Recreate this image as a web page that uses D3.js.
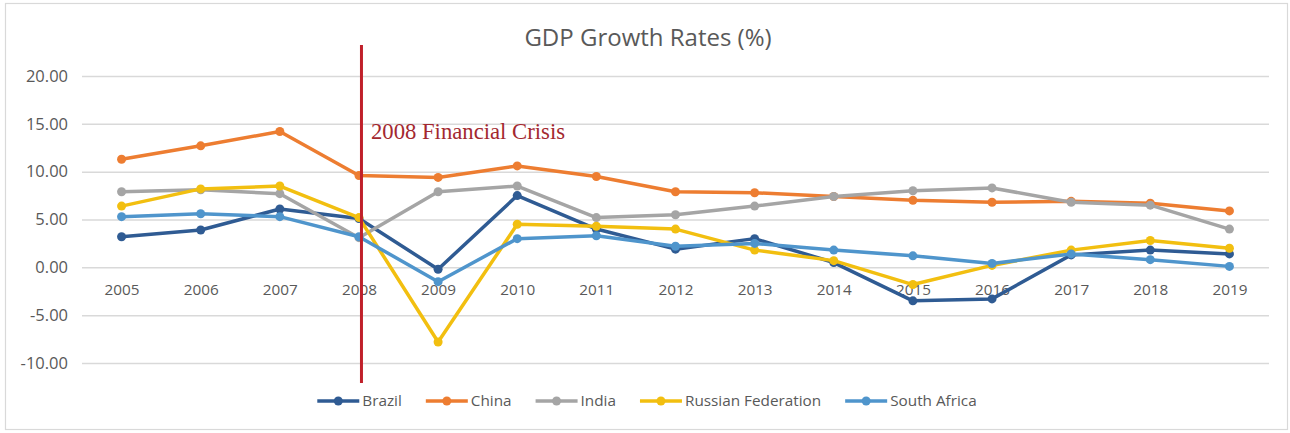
<!DOCTYPE html>
<html>
<head>
<meta charset="utf-8">
<script src="https://cdn.jsdelivr.net/npm/d3@7"></script>
<style>
  html, body { margin: 0; padding: 0; background: #ffffff; }
  svg { display: block; }
</style>
</head>
<body>
<svg id="chart" width="1290" height="433"></svg>
<script>
// GDP growth, annual %, for the BRICS economies
const years = ["2005","2006","2007","2008","2009","2010","2011","2012","2013","2014","2015","2016","2017","2018","2019"];
const brazil = [3.2, 3.9, 6.1, 5.1, -0.2, 7.5, 4.0, 1.9, 3.0, 0.5, -3.5, -3.3, 1.3, 1.8, 1.4];
const china  = [11.3, 12.7, 14.2, 9.6, 9.4, 10.6, 9.5, 7.9, 7.8, 7.4, 7.0, 6.8, 6.9, 6.7, 5.9];
const india  = [7.9, 8.1, 7.7, 3.1, 7.9, 8.5, 5.2, 5.5, 6.4, 7.4, 8.0, 8.3, 6.8, 6.5, 4.0];
const russia = [6.4, 8.2, 8.5, 5.2, -7.8, 4.5, 4.3, 4.0, 1.8, 0.7, -1.8, 0.2, 1.8, 2.8, 2.0];
const southAfrica = [5.3, 5.6, 5.3, 3.2, -1.5, 3.0, 3.3, 2.2, 2.5, 1.8, 1.2, 0.4, 1.4, 0.8, 0.1];
const seriesNames = ["Brazil", "China", "India", "Russian Federation", "South Africa"];
const yTicks = [-10, -5, 0, 5, 10, 15, 20];
const crisisYear = "2008";
const crisisLabel = "2008 Financial Crisis";
const title = "GDP Growth Rates (%)";

const seriesValues = [brazil, china, india, russia, southAfrica];
const colors = ["#2f5b93", "#ed7d31", "#a5a5a5", "#f2bf10", "#4f95cc"];

const plot = { left: 82, right: 1269, top: 76, bottom: 363 };
const sansFont = "'Open Sans', 'Noto Sans', sans-serif";
const textGrey = "#595959";

const svg = d3.select("#chart");

// outer chart frame
svg.append("rect")
  .attr("x", 5.5).attr("y", 3.5)
  .attr("width", 1282).attr("height", 426)
  .attr("fill", "#ffffff")
  .attr("stroke", "#d9d9d9").attr("stroke-width", 1.2);

const x = d3.scalePoint().domain(years).range([plot.left, plot.right]).padding(0.5);
const y = d3.scaleLinear().domain([-10, 20]).range([plot.bottom, plot.top]);

// horizontal gridlines with value labels
const yAxis = svg.append("g")
  .attr("transform", `translate(${plot.left},0)`)
  .call(d3.axisLeft(y)
    .tickValues(yTicks)
    .tickSize(-(plot.right - plot.left))
    .tickPadding(14)
    .tickFormat(d => d.toFixed(2)));
yAxis.select(".domain").remove();
yAxis.selectAll(".tick line").attr("stroke", "#d9d9d9").attr("stroke-width", 1.5);
yAxis.selectAll(".tick text")
  .attr("fill", textGrey)
  .style("font-family", sansFont)
  .style("font-size", "16.5px");

// year labels hang just below the zero line
const xAxis = svg.append("g")
  .attr("transform", `translate(0,${y(0)})`)
  .call(d3.axisBottom(x).tickSize(0).tickPadding(17));
xAxis.select(".domain").remove();
xAxis.selectAll(".tick text")
  .attr("fill", textGrey)
  .style("font-family", sansFont)
  .style("font-size", "15.3px");

// series lines and markers
const line = d3.line()
  .x((d, i) => x(years[i]))
  .y(d => y(d));

seriesValues.forEach((vals, s) => {
  const g = svg.append("g").attr("class", "series");
  g.append("path")
    .datum(vals)
    .attr("d", line)
    .attr("fill", "none")
    .attr("stroke", colors[s])
    .attr("stroke-width", 3.5)
    .attr("stroke-linejoin", "round")
    .attr("stroke-linecap", "round");
  g.selectAll("circle")
    .data(vals)
    .join("circle")
    .attr("cx", (d, i) => x(years[i]))
    .attr("cy", d => y(d))
    .attr("r", 4.5)
    .attr("fill", colors[s]);
});

// crisis marker line and its label
svg.append("line")
  .attr("x1", x(crisisYear) + 2.5).attr("x2", x(crisisYear) + 2.5)
  .attr("y1", 45).attr("y2", 383)
  .attr("stroke", "#c0202a")
  .attr("stroke-width", 3);

svg.append("text")
  .attr("x", x(crisisYear) + 12)
  .attr("y", 139)
  .attr("fill", "#a3282f")
  .style("font-family", "'Liberation Serif', 'Times New Roman', serif")
  .style("font-size", "22.7px")
  .text(crisisLabel);

// title
svg.append("text")
  .attr("x", 648)
  .attr("y", 46)
  .attr("text-anchor", "middle")
  .attr("fill", textGrey)
  .style("font-family", sansFont)
  .style("font-size", "24px")
  .text(title);

// legend, centred under the chart
const legend = svg.append("g");
const lineLen = 42, textGap = 3, itemGap = 24, legendY = 401;
let cursor = 0;
seriesNames.forEach((name, s) => {
  const item = legend.append("g").attr("transform", `translate(${cursor},${legendY})`);
  item.append("line")
    .attr("x1", 0).attr("x2", lineLen)
    .attr("y1", 0).attr("y2", 0)
    .attr("stroke", colors[s]).attr("stroke-width", 3.5);
  item.append("circle")
    .attr("cx", lineLen / 2).attr("cy", 0).attr("r", 4.5)
    .attr("fill", colors[s]);
  const t = item.append("text")
    .attr("x", lineLen + textGap)
    .attr("y", 0)
    .attr("dy", "0.35em")
    .attr("fill", textGrey)
    .style("font-family", sansFont)
    .style("font-size", "15.3px")
    .text(name);
  cursor += lineLen + textGap + t.node().getComputedTextLength() + itemGap;
});
const legendWidth = cursor - itemGap;
legend.attr("transform", `translate(${647 - legendWidth / 2},0)`);
</script>
</body>
</html>
